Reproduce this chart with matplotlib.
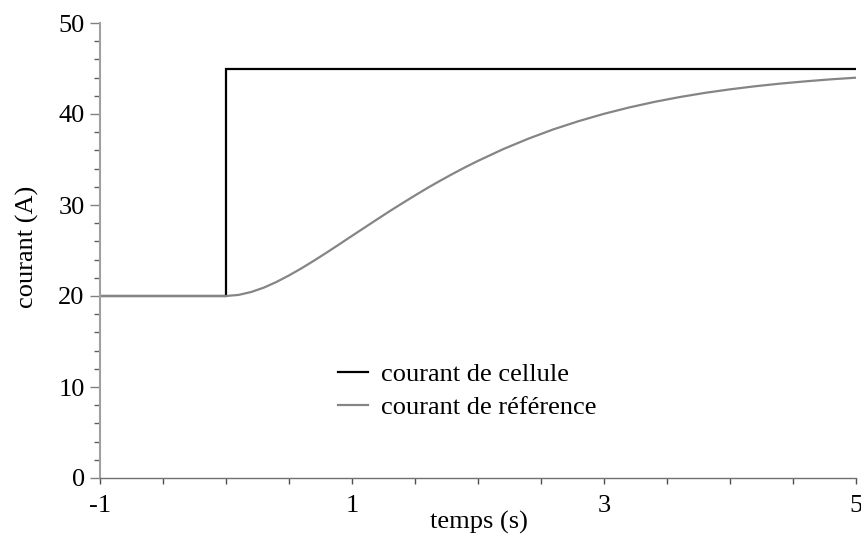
import matplotlib
matplotlib.use("Agg")
import matplotlib.pyplot as plt
from matplotlib.ticker import FixedLocator, MultipleLocator, FuncFormatter

plt.rcParams['font.family'] = ['Liberation Serif', 'DejaVu Serif']

# Cell current: step from 20 A to 45 A at t = 0
t_cell = [-1.0, 0.0, 0.0, 5.0]
i_cell = [20.0, 20.0, 45.0, 45.0]

# Reference current: smooth rise from 20 A towards 45 A
t_ref = [-1.0, 0.0, 0.1, 0.2, 0.3, 0.4, 0.5, 0.6, 0.7, 0.8, 0.9, 1.0,
         1.1, 1.2, 1.3, 1.4, 1.5, 1.6, 1.7, 1.8, 1.9, 2.0,
         2.2, 2.4, 2.6, 2.8, 3.0, 3.2, 3.4, 3.6, 3.8, 4.0,
         4.2, 4.4, 4.6, 4.8, 5.0]
i_ref = [20.0, 20.0, 20.12, 20.44, 20.92, 21.54, 22.26, 23.05, 23.90, 24.78, 25.69, 26.61,
         27.52, 28.43, 29.33, 30.20, 31.05, 31.88, 32.67, 33.43, 34.16, 34.85,
         36.14, 37.29, 38.32, 39.22, 40.02, 40.72, 41.33, 41.86, 42.32, 42.71,
         43.05, 43.34, 43.59, 43.81, 43.99]

x_labels = [-1, 1, 3, 5]
y_major = [0, 10, 20, 30, 40, 50]
FS = 19

fig = plt.figure(figsize=(8.61, 5.47), dpi=100)
ax = fig.add_axes([100 / 861, 1 - 478 / 547, 756 / 861, 455 / 547])

ax.plot(t_cell, i_cell, color='black', lw=1.6, label='courant de cellule',
        solid_joinstyle='miter')
ax.plot(t_ref, i_ref, color='#858585', lw=1.6, label='courant de référence')

ax.set_xlim(-1, 5)
ax.set_ylim(0, 50)

for side in ('top', 'right'):
    ax.spines[side].set_visible(False)
ax.spines['left'].set_color('#a0a0a0')
ax.spines['left'].set_linewidth(1.5)
ax.spines['bottom'].set_color('#707070')
ax.spines['bottom'].set_linewidth(1.0)

# x axis: small ticks every 0.5, labels only at odd seconds
ax.xaxis.set_major_locator(MultipleLocator(0.5))
ax.xaxis.set_major_formatter(FuncFormatter(
    lambda v, p: (f"{v:.0f}" if any(abs(v - l) < 1e-6 for l in x_labels) else "")))
ax.tick_params(axis='x', which='major', length=4, width=1, color='#505050',
               direction='out', labelsize=FS, pad=8)

ax.yaxis.set_major_locator(FixedLocator(y_major))
ax.yaxis.set_minor_locator(MultipleLocator(2))
ax.tick_params(axis='y', which='major', length=7, width=1, color='#808080',
               direction='out', labelsize=FS, pad=4)
ax.tick_params(axis='y', which='minor', length=4, width=1, color='#606060',
               direction='out')

ax.set_xlabel('temps (s)', fontsize=FS)
ax.set_ylabel('courant (A)', fontsize=FS)
ax.xaxis.set_label_coords((479 - 100) / 756, (478 - 522) / 455)
ax.yaxis.set_label_coords((27 - 100) / 756, (478 - 247) / 455)
ax.xaxis.label.set_va('center')
ax.yaxis.label.set_va('center')

ax.legend(loc='center left', bbox_to_anchor=(338 / 861, 1 - 391 / 547),
          bbox_transform=fig.transFigure, frameon=False, fontsize=FS,
          handlelength=1.14, handletextpad=0.49, labelspacing=0.36,
          borderpad=0, borderaxespad=0)

fig.savefig('out.png', dpi=100)
